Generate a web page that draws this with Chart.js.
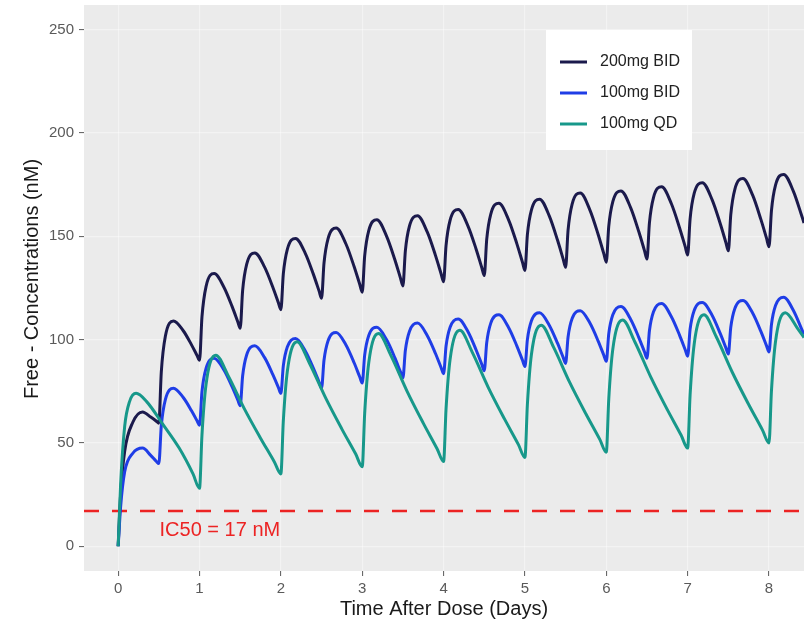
<!DOCTYPE html>
<html>
<head>
<meta charset="utf-8">
<title>Free concentrations</title>
<script src="https://cdn.jsdelivr.net/npm/chart.js@4/dist/chart.umd.min.js"></script>
<style>
  html, body { margin: 0; padding: 0; background: #fff; }
  #wrap { width: 804px; height: 621px; }
</style>
</head>
<body>
<div id="wrap"><canvas id="pkChart" width="804" height="621"></canvas></div>
<script>
// ---------- data ----------
const xTicks = [0, 1, 2, 3, 4, 5, 6, 7, 8];
const yTicks = [0, 50, 100, 150, 200, 250];

const seriesLabels = ['200mg BID', '100mg BID', '100mg QD'];
const seriesColors = ['#1b1a4c', '#1f3de6', '#17988a'];

// time points (days) for the twice-daily profiles
const bidTimes = [
  0, 0.03, 0.08, 0.18, 0.30, 0.40, 0.47,
  0.5, 0.53, 0.58, 0.68, 0.80, 0.90, 0.97,
  1.0, 1.03, 1.08, 1.18, 1.30, 1.40, 1.47,
  1.5, 1.53, 1.58, 1.68, 1.80, 1.90, 1.97,
  2.0, 2.03, 2.08, 2.18, 2.30, 2.40, 2.47,
  2.5, 2.53, 2.58, 2.68, 2.80, 2.90, 2.97,
  3.0, 3.03, 3.08, 3.18, 3.30, 3.40, 3.47,
  3.5, 3.53, 3.58, 3.68, 3.80, 3.90, 3.97,
  4.0, 4.03, 4.08, 4.18, 4.30, 4.40, 4.47,
  4.5, 4.53, 4.58, 4.68, 4.80, 4.90, 4.97,
  5.0, 5.03, 5.08, 5.18, 5.30, 5.40, 5.47,
  5.5, 5.53, 5.58, 5.68, 5.80, 5.90, 5.97,
  6.0, 6.03, 6.08, 6.18, 6.30, 6.40, 6.47,
  6.5, 6.53, 6.58, 6.68, 6.80, 6.90, 6.97,
  7.0, 7.03, 7.08, 7.18, 7.30, 7.40, 7.47,
  7.5, 7.53, 7.58, 7.68, 7.80, 7.90, 7.97,
  8.0, 8.03, 8.08, 8.18, 8.30, 8.40, 8.43
];

const bid200 = [
  0, 25, 46, 60, 65, 62.5, 60.5,
  59.5, 84.3, 101.6, 109, 104.3, 97.6, 92.3,
  90, 111, 125.7, 132, 125.4, 116.1, 108.7,
  105.5, 123.8, 136.5, 142, 135.1, 125.5, 117.8,
  114.5, 131.8, 143.8, 149, 141.8, 131.6, 123.5,
  120, 137, 148.9, 154, 146.3, 135.4, 126.7,
  123, 140.5, 152.8, 158, 150, 138.8, 129.8,
  126, 143, 154.9, 160, 152, 140.8, 131.8,
  128, 145.5, 157.8, 163, 155, 143.8, 134.8,
  131, 148.5, 160.8, 166, 157.9, 146.5, 137.4,
  133.5, 150.8, 162.8, 168, 159.8, 148.2, 139,
  135, 153, 165.6, 171, 162.6, 150.9, 141.5,
  137.5, 154.8, 166.8, 172, 163.8, 152.2, 143,
  139, 156.5, 168.8, 174, 165.8, 154.2, 145,
  141, 158.5, 170.8, 176, 167.8, 156.2, 147,
  143, 160.5, 172.8, 178, 169.8, 158.2, 149,
  145, 162.5, 174.8, 180, 171.8, 160.2, 156.5
];

const bid100 = [
  0, 19, 36, 45, 47.5, 44, 41,
  40, 58.3, 71, 76.5, 72, 65.7, 60.7,
  58.5, 74.8, 86.1, 91, 85.3, 77.2, 70.8,
  68, 82.5, 92.7, 97, 91.3, 83.2, 76.8,
  74, 87.3, 96.5, 100.5, 94.5, 86.1, 79.4,
  76.5, 90, 99.5, 103.5, 97.4, 88.8, 81.9,
  79, 92.5, 102, 106, 99.9, 91.3, 84.4,
  81.5, 94.8, 104, 108, 101.9, 93.3, 86.4,
  83.5, 96.8, 106, 110, 103.8, 95, 88,
  85, 98.5, 108, 112, 105.8, 97, 90,
  87, 100, 109.1, 113, 106.9, 98.3, 91.4,
  88.5, 101.3, 110.2, 114, 107.9, 99.3, 92.4,
  89.5, 102.8, 112, 116, 109.8, 101, 94,
  91, 104.3, 113.5, 117.5, 111.1, 102.2, 95.1,
  92, 105, 114.1, 118, 111.8, 103, 96,
  93, 106, 115.1, 119, 112.8, 104, 97,
  94, 107.3, 116.5, 120.5, 114.1, 105.2, 102.5
];

// time points (days) for the once-daily profile
const qdTimes = [
  0, 0.03, 0.08, 0.14, 0.22, 0.35, 0.55, 0.75, 0.92,
  1.0, 1.03, 1.08, 1.20, 1.35, 1.55, 1.75, 1.92,
  2.0, 2.03, 2.08, 2.20, 2.35, 2.55, 2.75, 2.92,
  3.0, 3.03, 3.08, 3.20, 3.35, 3.55, 3.75, 3.92,
  4.0, 4.03, 4.08, 4.20, 4.35, 4.55, 4.75, 4.92,
  5.0, 5.03, 5.08, 5.20, 5.35, 5.55, 5.75, 5.92,
  6.0, 6.03, 6.08, 6.20, 6.35, 6.55, 6.75, 6.92,
  7.0, 7.03, 7.08, 7.20, 7.35, 7.55, 7.75, 7.92,
  8.0, 8.03, 8.08, 8.20, 8.35, 8.43
];

const qd100 = [
  0, 30, 58, 70, 74, 70, 59, 47.5, 35,
  28, 53.8, 78.3, 92.5, 82.7, 66.6, 52.3, 40.8,
  35, 60.6, 84.9, 99, 88.7, 71.8, 56.7, 44.6,
  38.5, 64.3, 88.8, 103, 92.5, 75.1, 59.6, 47.2,
  41, 66.4, 90.5, 104.5, 94.1, 76.8, 61.5, 49.2,
  43, 68.6, 92.9, 107, 96.5, 79.3, 64, 51.7,
  45.5, 71.1, 95.4, 109.5, 99, 81.6, 66.1, 53.7,
  47.5, 73.3, 97.8, 112, 101.5, 84.1, 68.6, 56.2,
  50, 75.2, 99.1, 113, 105.5, 101
];

const IC50 = 17;
const ic50LabelAt = [1.25, 7.5]; // day, nM (centre of the text)

const xTitle = 'Time After Dose (Days)';
const yTitle = 'Free - Concentrations (nM)';

// ---------- axis ranges / look ----------
const X_MIN = -0.42, X_MAX = 8.43;
const Y_MIN = -12, Y_MAX = 262;
const PANEL_BG = '#ebebeb';
const IC50_COLOR = '#ec2323';
const FONT = '"Liberation Sans", Arial, sans-serif';

const toPoints = (xs, ys) => xs.map((x, i) => ({ x, y: ys[i] }));

// grey ggplot-style panel, y title, IC50 label and legend box
const panelPlugin = {
  id: 'panel',
  beforeDraw(chart) {
    const { ctx, chartArea: a } = chart;
    ctx.save();
    ctx.fillStyle = PANEL_BG;
    ctx.fillRect(a.left, a.top, a.right - a.left, a.bottom - a.top);
    ctx.restore();
  },
  afterDraw(chart) {
    const { ctx } = chart;
    const xs = chart.scales.x, ys = chart.scales.y;

    ctx.save();
    // y axis title (drawn by hand, ggplot centres it a bit higher)
    ctx.save();
    ctx.translate(32, 279);
    ctx.rotate(-Math.PI / 2);
    ctx.font = '20px ' + FONT;
    ctx.fillStyle = '#1a1a1a';
    ctx.textAlign = 'center';
    ctx.textBaseline = 'middle';
    ctx.fillText(yTitle, 0, 0);
    ctx.restore();

    ctx.font = '20px ' + FONT;
    ctx.fillStyle = IC50_COLOR;
    ctx.textAlign = 'center';
    ctx.textBaseline = 'middle';
    ctx.fillText('IC50 = ' + IC50 + ' nM', xs.getPixelForValue(ic50LabelAt[0]), ys.getPixelForValue(ic50LabelAt[1]));

    // legend
    ctx.fillStyle = '#ffffff';
    ctx.fillRect(546, 30, 146, 120);
    ctx.font = '16px ' + FONT;
    ctx.textAlign = 'left';
    seriesLabels.forEach((lab, i) => {
      const rowY = 62 + i * 31;
      ctx.strokeStyle = seriesColors[i];
      ctx.lineWidth = 3;
      ctx.beginPath();
      ctx.moveTo(560, rowY);
      ctx.lineTo(587, rowY);
      ctx.stroke();
      ctx.fillStyle = '#222';
      ctx.fillText(lab, 600, rowY);
    });
    ctx.restore();
  }
};

const lineStyle = (color) => ({
  borderColor: color,
  backgroundColor: color,
  borderWidth: 3,
  pointRadius: 0,
  fill: false,
  cubicInterpolationMode: 'monotone'
});

// index 0 is painted last, so QD sits on top as in the reference
const datasets = [
  { label: seriesLabels[2], data: toPoints(qdTimes, qd100), ...lineStyle(seriesColors[2]) },
  { label: seriesLabels[1], data: toPoints(bidTimes, bid100), ...lineStyle(seriesColors[1]) },
  { label: seriesLabels[0], data: toPoints(bidTimes, bid200), ...lineStyle(seriesColors[0]) },
  {
    label: 'IC50',
    data: [{ x: X_MIN, y: IC50 }, { x: X_MAX, y: IC50 }],
    borderColor: IC50_COLOR,
    borderWidth: 2.5,
    borderDash: [15, 13],
    pointRadius: 0,
    fill: false
  }
];

const gridStyle = { color: 'rgba(255,255,255,0.4)', lineWidth: 1.2, tickLength: 5, tickColor: '#5a5a5a', tickWidth: 1 };

new Chart(document.getElementById('pkChart'), {
  type: 'line',
  data: { datasets },
  plugins: [panelPlugin],
  options: {
    responsive: false,
    animation: false,
    devicePixelRatio: 1,
    layout: { padding: { top: 5, right: 0, bottom: 0, left: 0 } },
    plugins: { legend: { display: false }, tooltip: { enabled: false } },
    scales: {
      x: {
        type: 'linear',
        min: X_MIN,
        max: X_MAX,
        afterBuildTicks: (scale) => { scale.ticks = xTicks.map(v => ({ value: v })); },
        afterFit: (scale) => { scale.height = 50; scale.paddingLeft = 0; scale.paddingRight = 0; },
        ticks: { color: '#5a5a5a', font: { family: FONT, size: 15 }, padding: 4, maxRotation: 0, autoSkip: false },
        grid: gridStyle,
        border: { display: false },
        title: { display: true, text: xTitle, color: '#1a1a1a', font: { family: FONT, size: 20, lineHeight: 1.2 }, padding: { top: 0, bottom: 0 } }
      },
      y: {
        min: Y_MIN,
        max: Y_MAX,
        afterBuildTicks: (scale) => { scale.ticks = yTicks.map(v => ({ value: v })); },
        afterFit: (scale) => { scale.width = 84; scale.paddingTop = 0; scale.paddingBottom = 0; },
        ticks: { color: '#5a5a5a', font: { family: FONT, size: 15 }, padding: 5, autoSkip: false },
        grid: gridStyle,
        border: { display: false }
      }
    }
  }
});
</script>
</body>
</html>
